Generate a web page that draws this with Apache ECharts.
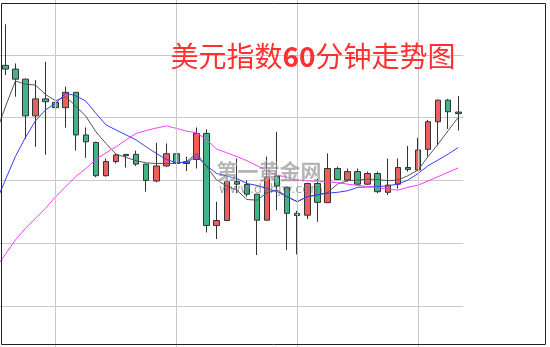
<!DOCTYPE html>
<html>
<head>
<meta charset="utf-8">
<script src="https://cdn.jsdelivr.net/npm/echarts@6/dist/echarts.min.js"></script>
<style>
html,body{margin:0;padding:0;background:#fff;}
#c{width:550px;height:347px;}
</style>
</head>
<body>
<div id="c"></div>
<script>
// hourly categories (first one is only partly in view, its candle lies off the left edge)
const categories = [
  '02 18:00','02 19:00','02 20:00','02 21:00','02 22:00','02 23:00',
  '03 00:00','03 01:00','03 02:00','03 03:00','03 04:00','03 05:00','03 06:00','03 07:00','03 08:00','03 09:00','03 10:00','03 11:00',
  '03 12:00','03 13:00','03 14:00','03 15:00','03 16:00','03 17:00','03 18:00','03 19:00','03 20:00','03 21:00','03 22:00','03 23:00',
  '04 00:00','04 01:00','04 02:00','04 03:00','04 04:00','04 05:00','04 06:00','04 07:00','04 08:00','04 09:00','04 10:00','04 11:00',
  '04 12:00','04 13:00','04 14:00','04 15:00','04 16:00'
];
// [open, close, low, high]
const candles = [
  '-',
  [97.567,97.555,97.536,97.698],
  [97.555,97.523,97.467,97.573],
  [97.523,97.406,97.332,97.525],
  [97.406,97.460,97.307,97.520],
  [97.460,97.451,97.282,97.578],
  [97.449,97.432,97.430,97.637],
  [97.432,97.481,97.368,97.499],
  [97.481,97.345,97.295,97.481],
  [97.345,97.323,97.272,97.369],
  [97.321,97.215,97.210,97.323],
  [97.215,97.260,97.212,97.270],
  [97.260,97.281,97.254,97.284],
  [97.283,97.279,97.241,97.284],
  [97.283,97.252,97.246,97.295],
  [97.252,97.200,97.164,97.252],
  [97.198,97.246,97.194,97.320],
  [97.246,97.285,97.244,97.318],
  [97.285,97.254,97.251,97.318],
  [97.260,97.254,97.230,97.276],
  [97.267,97.350,97.238,97.369],
  [97.350,97.056,97.034,97.363],
  [97.056,97.072,97.013,97.132],
  [97.072,97.196,97.070,97.198],
  [97.196,97.188,97.159,97.270],
  [97.187,97.156,97.148,97.200],
  [97.156,97.073,96.962,97.156],
  [97.073,97.210,97.073,97.276],
  [97.214,97.182,97.105,97.355],
  [97.178,97.095,96.978,97.180],
  [97.095,97.088,96.964,97.103],
  [97.089,97.190,97.077,97.193],
  [97.190,97.130,97.068,97.206],
  [97.129,97.238,97.129,97.286],
  [97.238,97.203,97.201,97.244],
  [97.201,97.228,97.196,97.238],
  [97.228,97.188,97.185,97.238],
  [97.188,97.222,97.185,97.228],
  [97.222,97.164,97.159,97.228],
  [97.162,97.185,97.153,97.270],
  [97.188,97.241,97.174,97.270],
  [97.241,97.235,97.228,97.310],
  [97.233,97.297,97.231,97.336],
  [97.299,97.387,97.276,97.393],
  [97.387,97.456,97.311,97.458],
  [97.456,97.419,97.364,97.460],
  [97.418,97.413,97.359,97.469]
];
const ma5 = [97.345,97.434,97.517,97.507,97.504,97.474,97.454,97.467,97.437,97.405,97.355,97.318,97.284,97.273,97.263,97.256,97.254,97.254,97.254,97.260,97.286,97.244,97.201,97.182,97.169,97.139,97.137,97.161,97.169,97.148,97.132,97.148,97.153,97.161,97.188,97.199,97.201,97.204,97.203,97.199,97.201,97.215,97.233,97.276,97.316,97.359,97.401];
const ma10 = [97.125,97.201,97.276,97.337,97.390,97.425,97.446,97.478,97.470,97.453,97.414,97.377,97.361,97.345,97.329,97.307,97.286,97.267,97.256,97.257,97.276,97.247,97.222,97.214,97.206,97.190,97.184,97.174,97.164,97.148,97.132,97.148,97.155,97.159,97.162,97.167,97.178,97.179,97.180,97.183,97.188,97.201,97.222,97.247,97.265,97.284,97.305];
const ma20 = [96.919,96.964,97.010,97.047,97.079,97.111,97.148,97.180,97.212,97.238,97.267,97.288,97.307,97.329,97.350,97.359,97.367,97.374,97.366,97.357,97.352,97.329,97.300,97.288,97.276,97.263,97.247,97.231,97.217,97.210,97.201,97.199,97.197,97.195,97.193,97.188,97.184,97.180,97.177,97.172,97.169,97.178,97.185,97.198,97.212,97.226,97.240];
const dayMarks = ['03 00:00','03 12:00','04 00:00','04 12:00'];
const titleParts = ['美元指数', '60', '分钟走势图'];
const watermark1 = '第一黄金网';
const watermark2 = 'www.dyhjw.com';

const chart = echarts.init(document.getElementById('c'), null, {renderer:'canvas'});
const gridColor = '#c9c9c9';
const titleRed = '#ff3030';
const option = {
  animation: false,
  backgroundColor: '#fff',
  grid: {left: -9.8, top: -7.7, width: 473.1, height: 376.2, show: false, outerBoundsMode: 'none', containLabel: false},
  xAxis: {
    type: 'category', data: categories, boundaryGap: true,
    axisLine: {show: false}, axisTick: {show: false}, axisLabel: {show: false},
    splitLine: {show: false}
  },
  yAxis: {
    type: 'value', min: 96.6, max: 97.8, interval: 0.2, scale: true,
    axisLine: {show: false}, axisTick: {show: false}, axisLabel: {show: false},
    splitLine: {show: true, lineStyle: {color: gridColor, width: 1}}
  },
  series: [
    {
      type: 'line', z: 1, data: categories.map(() => '-'), silent: true,
      markLine: {
        silent: true, symbol: 'none', label: {show: false},
        lineStyle: {color: gridColor, width: 1, type: 'solid'},
        data: dayMarks.map(d => ({xAxis: d}))
      }
    },
    {
      type: 'candlestick', z: 3, data: candles, barWidth: 6,
      itemStyle: {
        color: '#ef5d5d', color0: '#3fb488',
        borderColor: '#333', borderColor0: '#333', borderWidth: 1
      }
    },
    {type: 'line', z: 4, data: ma5, symbol: 'none', lineStyle: {color: '#555', width: 1}},
    {type: 'line', z: 4, data: ma10, symbol: 'none', lineStyle: {color: '#3b3bff', width: 1}},
    {type: 'line', z: 4, data: ma20, symbol: 'none', lineStyle: {color: '#ff3cff', width: 1}}
  ],
  graphic: [
    {type: 'text', left: 216, top: 160, z: 10, silent: true,
     style: {text: watermark1, font: 'bold 21px "Noto Sans CJK SC"', fill: 'rgba(120,120,120,0.55)',
             stroke: 'rgba(255,255,255,0.5)', lineWidth: 1}},
    {type: 'text', left: 219, top: 183, z: 10, silent: true,
     style: {text: watermark2, font: '13px "DejaVu Sans"', fill: 'rgba(110,110,110,0.6)'}},
    {type: 'text', x: 170.5, y: 56, z: 10, silent: true,
     style: {
       text: '{a|' + titleParts[0] + '}{b|' + titleParts[1] + '}{a|' + titleParts[2] + '}',
       fill: titleRed,
       textVerticalAlign: 'middle',
       rich: {
         a: {fontFamily: 'Noto Sans CJK SC', fontSize: 28, fontWeight: 'normal', fill: titleRed, color: titleRed},
         b: {fontFamily: 'Noto Sans CJK SC', fontSize: 28, fontWeight: 'bold', fill: titleRed, color: titleRed}
       }
     }},
    {type: 'rect', z: 20, silent: true, shape: {x: 1.5, y: 3.5, width: 544, height: 341},
     style: {fill: 'none', stroke: '#222', lineWidth: 1}}
  ]
};
chart.setOption(option);
</script>
</body>
</html>
